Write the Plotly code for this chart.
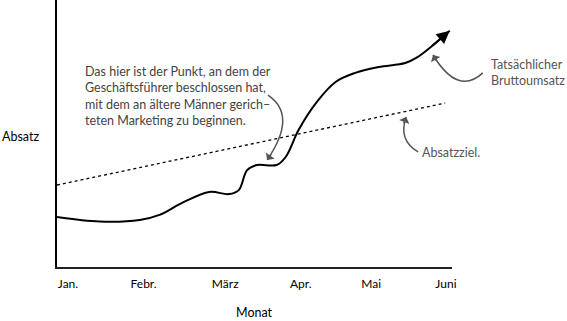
import plotly.graph_objects as go

# ---- data ----
months = ["Jan.", "Febr.", "März", "Apr.", "Mai", "Juni"]
month_pos = [0, 1.0, 2.08, 3.08, 4.01, 5.0]

sales_x = [-0.145, 0.42, 0.95, 1.21, 1.51, 1.87, 2.13, 2.26, 2.37, 2.50, 2.76, 2.88,
           3.05, 3.28, 3.54, 3.80, 4.11, 4.46, 4.63, 4.80, 5.05]
sales_y = [1.87, 1.70, 1.76, 1.95, 2.40, 2.81, 2.73, 2.88, 3.63, 3.82, 3.82, 4.12,
           5.13, 6.14, 6.93, 7.27, 7.49, 7.64, 7.87, 8.24, 8.85]

target_x = [-0.145, 4.99]
target_y = [3.07, 6.14]

FONT = "Humor Sans, xkcd Script, Comic Sans MS, Lato, sans-serif"
GRAY = "#555555"

fig = go.Figure()
fig.add_trace(go.Scatter(x=target_x, y=target_y, mode="lines",
                         line=dict(color="black", width=1.3, dash="dot"),
                         hoverinfo="skip"))
fig.add_trace(go.Scatter(x=sales_x, y=sales_y, mode="lines",
                         line=dict(color="black", width=2, shape="spline", smoothing=1.0),
                         hoverinfo="skip"))

# arrowhead at the end of the sales curve
fig.add_annotation(x=sales_x[-1], y=sales_y[-1], ax=sales_x[-2], ay=sales_y[-2],
                   xref="x", yref="y", axref="x", ayref="y", text="",
                   showarrow=True, arrowhead=2, arrowsize=1.3, arrowwidth=2,
                   arrowcolor="black", standoff=0)

# curved callout arrows (paper coords)
callouts = [
    # start, control, end, (ax, ay) tail offset for head
    ((0.534, 0.644), (0.610, 0.569), (0.532, 0.401), (5, -7)),
    ((1.078, 0.727), (1.015, 0.640), (0.952, 0.794), (4, 7)),
    ((0.914, 0.431), (0.863, 0.476), (0.884, 0.562), (-3, 8)),
]
for s, c, e, (ax, ay) in callouts:
    fig.add_shape(type="path", xref="paper", yref="paper",
                  path=f"M {s[0]},{s[1]} Q {c[0]},{c[1]} {e[0]},{e[1]}",
                  line=dict(color=GRAY, width=1.5))
    fig.add_annotation(x=e[0], y=e[1], xref="paper", yref="paper", ax=ax, ay=ay,
                       text="", showarrow=True, arrowhead=1, arrowsize=1.2,
                       arrowwidth=1.5, arrowcolor=GRAY, standoff=0)

fig.add_annotation(xref="paper", yref="paper", x=0.066, y=0.768, xanchor="left", yanchor="top",
                   align="left", showarrow=False,
                   text="Das hier ist der Punkt, an dem der<br>Geschäftsführer beschlossen hat,<br>"
                        "mit dem an ältere Männer gerich–<br>teten Marketing zu beginnen.",
                   font=dict(family=FONT, size=12.5, color="#444444"))
fig.add_annotation(xref="paper", yref="paper", x=1.094, y=0.73, xanchor="left", yanchor="middle",
                   align="left", showarrow=False, text="Tatsächlicher<br>Bruttoumsatz",
                   font=dict(family=FONT, size=12.5, color=GRAY))
fig.add_annotation(xref="paper", yref="paper", x=0.919, y=0.427, xanchor="left", yanchor="middle",
                   align="left", showarrow=False, text="Absatzziel.",
                   font=dict(family=FONT, size=12.5, color=GRAY))
fig.add_annotation(xref="paper", yref="paper", x=-0.144, y=0.487, xanchor="left", yanchor="middle",
                   showarrow=False, text="Absatz", font=dict(family=FONT, size=12.5, color="black"))
fig.add_annotation(xref="paper", yref="paper", x=0.5, y=-0.172, xanchor="center", yanchor="middle",
                   showarrow=False, text="Monat", font=dict(family=FONT, size=12.5, color="black"))

fig.update_layout(
    width=567, height=321,
    margin=dict(l=57, r=115, t=0, b=54),
    paper_bgcolor="white", plot_bgcolor="white",
    showlegend=False,
    font=dict(family=FONT, size=12, color="black"),
)
fig.update_xaxes(range=[-0.145, 5.08], tickmode="array", tickvals=month_pos, ticktext=months,
                 showgrid=False, zeroline=False, showline=True, linecolor="#222222", linewidth=2,
                 ticks="", ticklabelstandoff=5, tickfont=dict(size=12, family=FONT))
fig.update_yaxes(range=[0, 10], showticklabels=False, showgrid=False, zeroline=False,
                 showline=True, linecolor="black", linewidth=1.5, ticks="")

fig.write_html("out.html")
